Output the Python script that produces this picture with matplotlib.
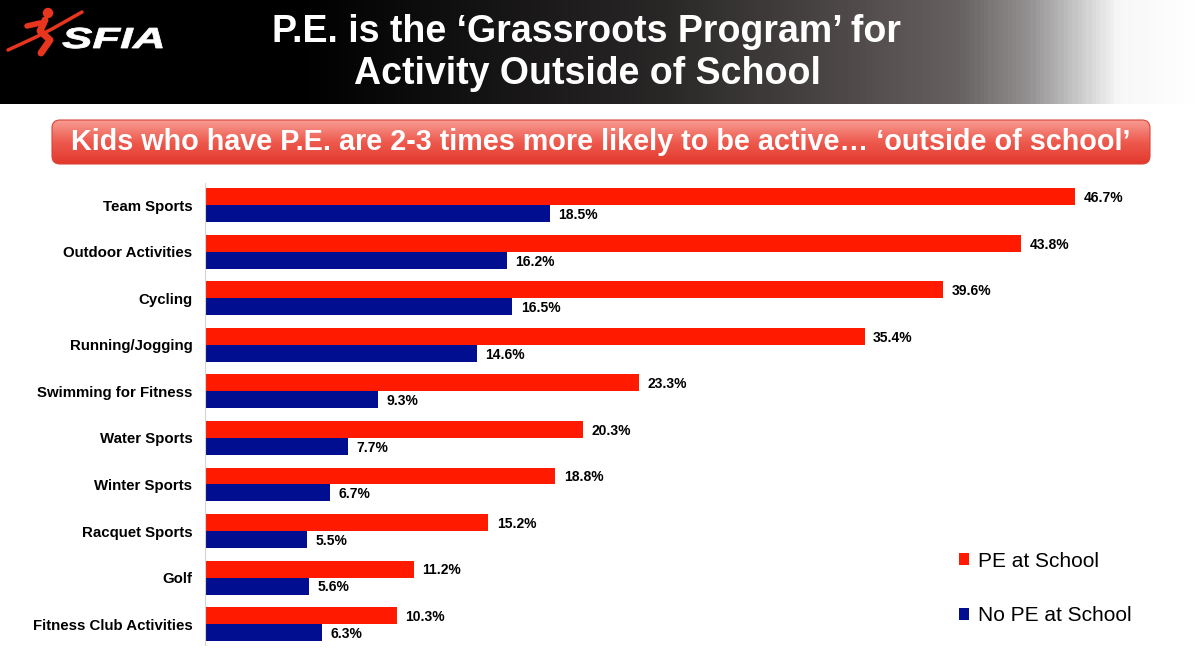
import numpy as np
import matplotlib
matplotlib.use("Agg")
import matplotlib.pyplot as plt
from matplotlib.patches import FancyBboxPatch, Circle, PathPatch
from matplotlib.colors import LinearSegmentedColormap
from matplotlib.textpath import TextPath
from matplotlib.font_manager import FontProperties
from matplotlib.transforms import Affine2D

plt.rcParams['font.family'] = ['Liberation Sans', 'DejaVu Sans']

# data
categories = ["Team Sports", "Outdoor Activities", "Cycling", "Running/Jogging",
              "Swimming for Fitness", "Water Sports", "Winter Sports",
              "Racquet Sports", "Golf", "Fitness Club Activities"]
pe_school = [46.7, 43.8, 39.6, 35.4, 23.3, 20.3, 18.8, 15.2, 11.2, 10.3]
no_pe_school = [18.5, 16.2, 16.5, 14.6, 9.3, 7.7, 6.7, 5.5, 5.6, 6.3]
series_names = ["PE at School", "No PE at School"]

title = "P.E. is the \u2018Grassroots Program\u2019 for\nActivity Outside of School"
subtitle = "Kids who have P.E. are 2-3 times more likely to be active\u2026 \u2018outside of school\u2019"

RED = '#FF1A00'
BLUE = '#000E8F'
LOGO_RED = '#E8361E'

W, H = 1200, 653
fig = plt.figure(figsize=(W / 100, H / 100), dpi=100)
fig.patch.set_facecolor('white')

# ---- header band with gradient ----
hdr = fig.add_axes([0, 1 - 104 / H, 1, 104 / H])
hdr.set_axis_off()
grad = LinearSegmentedColormap.from_list('hdr', [
    (0.0, (0, 0, 0)), (0.25, (0, 0, 0)), (0.55, (0.16, 0.15, 0.15)),
    (0.70, (0.30, 0.28, 0.28)), (0.80, (0.40, 0.38, 0.38)),
    (0.86, (0.58, 0.57, 0.57)), (0.935, (0.97, 0.97, 0.97)), (1.0, (1, 1, 1))])
hdr.imshow(np.linspace(0, 1, 600)[None, :], aspect='auto', cmap=grad,
           extent=[0, W, 104, 0])
hdr.set_xlim(0, W)
hdr.set_ylim(104, 0)
hdr.text(587, 53, title, color='white', fontsize=27, fontweight='bold',
         ha='center', va='center', linespacing=1.2)

# logo: little red runner + SFIA
hdr.add_patch(Circle((48, 13), 4.5, color=LOGO_RED))
hdr.plot([8, 34, 52, 82], [50, 38, 29, 12], color=LOGO_RED, lw=2.5, solid_capstyle='round')
hdr.plot([45, 40, 50, 41], [20, 31, 40, 53], color=LOGO_RED, lw=5, solid_capstyle='round')
hdr.plot([40, 27], [23, 26], color=LOGO_RED, lw=4, solid_capstyle='round')
fp = FontProperties(family='Liberation Sans', weight='bold', style='italic')
tp = TextPath((0, 0), "SFIA", size=1, prop=fp)
tp = Affine2D().scale(45.5, -29).translate(62, 48).transform_path(tp)
hdr.add_patch(PathPatch(tp, facecolor='white', edgecolor='white', lw=0.6))

# ---- subtitle banner ----
ban = fig.add_axes([0, 0, 1, 1])
ban.set_axis_off()
ban.set_xlim(0, W)
ban.set_ylim(H, 0)
ban_grad = LinearSegmentedColormap.from_list('ban', ['#F79C92', '#EE5A4E', '#E2382C'])
box = FancyBboxPatch((52, 120), 1098, 44, boxstyle='round,pad=0,rounding_size=8',
                     facecolor='none', edgecolor='#D8443A', lw=0.8)
ban.add_patch(box)
im = ban.imshow(np.linspace(0, 1, 100)[:, None], aspect='auto', cmap=ban_grad,
                extent=[52, 1150, 164, 120])
im.set_clip_path(box)
ban.text(601, 142, subtitle, color='white', fontsize=20.7, fontweight='bold',
         ha='center', va='center')

# ---- bar chart ----
ax = fig.add_axes([205 / W, 8 / H, 969 / W, 462 / H])
y = np.arange(len(categories))
bh = 0.365
ax.barh(y - bh / 2, pe_school, height=bh, color=RED, label=series_names[0])
ax.barh(y + bh / 2, no_pe_school, height=bh, color=BLUE, label=series_names[1])

for i in range(len(categories)):
    ax.text(pe_school[i] + 0.45, y[i] - bh / 2 + 0.03, f"{pe_school[i]:.1f}%",
            fontsize=10, fontweight='bold', va='center', ha='left')
    ax.text(no_pe_school[i] + 0.45, y[i] + bh / 2 + 0.03, f"{no_pe_school[i]:.1f}%",
            fontsize=10, fontweight='bold', va='center', ha='left')

ax.set_xlim(0, 52)
ax.set_ylim(9.45, -0.48)
ax.set_yticks(y)
ax.set_yticklabels(categories, fontsize=10.8, fontweight='bold')
ax.tick_params(axis='y', length=0, pad=9)
ax.set_xticks([])
for s in ['top', 'right', 'bottom']:
    ax.spines[s].set_visible(False)
ax.spines['left'].set_color('#D4D4D4')
ax.patch.set_alpha(0)

ax.legend(loc='upper left', bbox_to_anchor=((940 - 205) / 969, (653 - 533 - 8) / 462),
          frameon=False, fontsize=15, handlelength=0.5, handleheight=0.5,
          handletextpad=0.4, labelspacing=1.7)

fig.savefig('out.png', dpi=100)
